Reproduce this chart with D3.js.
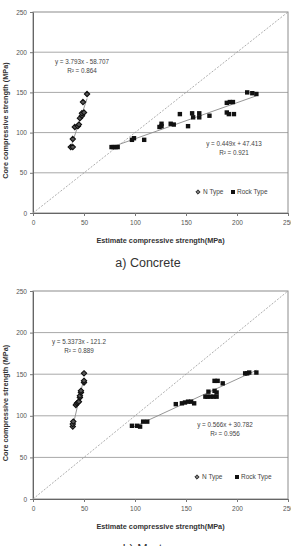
<!DOCTYPE html>
<html>
<head>
<meta charset="utf-8">
<script src="https://cdn.jsdelivr.net/npm/d3@7"></script>
<style>
body{margin:0;background:#fff;}
svg{display:block;}
</style>
</head>
<body>
<svg id="drawing_region"></svg>
<script>
// concrete (a)
const concreteN = [[37,82],[39,82],[39,92],[41,107],[44,108],[45,110],[46,118],[48,121],[48,124],[50,125],[49,138],[53,148]]
const concreteRock = [[77,82],[79,82],[81,82],[83,82],[97,91],[99,93],[109,91],[124,107],[126,111],[126,108],[135,111],[138,110],[144,123],[152,108],[156,124],[157,119],[163,124],[163,119],[173,121],[190,125],[192,123],[197,123],[190,137],[193,138],[196,138],[210,150],[215,149],[219,148]]
const concreteFitN = {slope:3.793, icept:-58.707, label:"y = 3.793x - 58.707", r2:"R² = 0.864"}
const concreteFitRock = {slope:0.449, icept:47.413, label:"y = 0.449x + 47.413", r2:"R² = 0.921"}

// mortar (b)
const mortarN = [[39,87],[39,90],[39.5,93],[42,113],[43,115],[44,116],[45,117],[46,122],[46,124],[47,128],[47,130],[50,140],[50,142],[50,151]]
const mortarRock = [[97,88],[102,88],[105,87],[108,93],[112,93],[140,114],[146,115],[149,116],[152,117],[155,117],[158,115],[169,123],[171,123],[174,123],[177,123],[180,123],[172,129],[178,130],[180,128],[178,142],[181,142],[186,139],[208,151],[210,151],[212,152],[219,152]]
const mortarFitN = {slope:5.3373, icept:-121.2, label:"y = 5.3373x - 121.2", r2:"R² = 0.889"}
const mortarFitRock = {slope:0.566, icept:30.782, label:"y = 0.566x + 30.782", r2:"R² = 0.956"}

const axisTicks = [0,50,100,150,200,250]
const legendLabels = ["N Type","Rock Type"]
const xTitle = "Estimate compressive strength(MPa)"
const yTitle = "Core compressive strength (MPa)"

const svg = d3.select("#drawing_region")
    .attr("width",291)
    .attr("height",546)

const font = "'Liberation Sans', Arial, sans-serif"

function drawPanel(cfg){
    const x = d3.scaleLinear().domain([0,250]).range([cfg.left,cfg.right])
    const y = d3.scaleLinear().domain([0,250]).range([cfg.bottom,cfg.top])
    const g = svg.append("g")

    // gridlines
    g.selectAll(".grid")
        .data(axisTicks.slice(1,-1))
        .enter()
        .append("line")
        .attr("x1",x(0)).attr("x2",x(250))
        .attr("y1",d=>y(d)).attr("y2",d=>y(d))
        .attr("stroke","#a8a8a8").attr("stroke-width",1)

    // box
    g.append("rect")
        .attr("x",x(0)).attr("y",y(250))
        .attr("width",x(250)-x(0)).attr("height",y(0)-y(250))
        .attr("fill","none").attr("stroke","#8c8c8c").attr("stroke-width",1)

    // axes
    const xAxis = g.append("g")
        .attr("transform",`translate(0,${y(0)})`)
        .call(d3.axisBottom(x).tickValues(axisTicks).tickSize(3).tickSizeOuter(0).tickPadding(4))
    const yAxis = g.append("g")
        .attr("transform",`translate(${x(0)},0)`)
        .call(d3.axisLeft(y).tickValues(axisTicks).tickSize(3).tickSizeOuter(0).tickPadding(3))
    ;[xAxis,yAxis].forEach(a=>{
        a.select(".domain").attr("stroke","#666")
        a.selectAll("line").attr("stroke","#777")
        a.selectAll("text").attr("font-family",font).attr("font-size",6.5).attr("fill","#555")
    })

    // y = x dashed
    g.append("line")
        .attr("x1",x(0)).attr("y1",y(0)).attr("x2",x(250)).attr("y2",y(250))
        .attr("stroke","#999").attr("stroke-width",0.8).attr("stroke-dasharray","2,1.5")

    // trend lines
    const fits = [[cfg.n,cfg.fitN],[cfg.rock,cfg.fitRock]]
    fits.forEach(([pts,fit])=>{
        const ext = d3.extent(pts,d=>d[0])
        g.append("line")
            .attr("x1",x(ext[0])).attr("y1",y(fit.slope*ext[0]+fit.icept))
            .attr("x2",x(ext[1])).attr("y2",y(fit.slope*ext[1]+fit.icept))
            .attr("stroke","#8a8a8a").attr("stroke-width",0.9)
    })

    // rock squares
    g.selectAll(".rock")
        .data(cfg.rock)
        .enter()
        .append("rect")
        .attr("x",d=>x(d[0])-2.2).attr("y",d=>y(d[1])-2.2)
        .attr("width",4.4).attr("height",4.4)
        .attr("fill","#111")

    // N diamonds
    const diamond = d3.symbol().type(d3.symbolDiamond2).size(18)
    g.selectAll(".ntype")
        .data(cfg.n)
        .enter()
        .append("path")
        .attr("d",diamond)
        .attr("transform",d=>`translate(${x(d[0])},${y(d[1])})`)
        .attr("fill","#555").attr("stroke","#111").attr("stroke-width",1.1)

    // equations
    ;[[cfg.fitN,cfg.eqN],[cfg.fitRock,cfg.eqRock]].forEach(([fit,pos])=>{
        g.append("text").attr("x",pos[0]).attr("y",pos[1])
            .attr("text-anchor","middle").attr("font-family",font).attr("font-size",6.3).attr("fill","#444")
            .text(fit.label)
        g.append("text").attr("x",pos[0]).attr("y",pos[1]+9)
            .attr("text-anchor","middle").attr("font-family",font).attr("font-size",6.3).attr("fill","#444")
            .text(fit.r2)
    })

    // legend
    const lg = g.append("g").attr("transform",`translate(${cfg.legend[0]},${cfg.legend[1]})`)
    lg.append("path").attr("d",d3.symbol().type(d3.symbolDiamond2).size(12)())
        .attr("fill","#777").attr("stroke","#222").attr("stroke-width",0.9)
    lg.append("text").attr("x",5).attr("y",2.3)
        .attr("font-family",font).attr("font-size",6.5).attr("fill","#444").text(legendLabels[0])
    lg.append("rect").attr("x",cfg.legendGap-2).attr("y",-2).attr("width",4).attr("height",4).attr("fill","#111")
    lg.append("text").attr("x",cfg.legendGap+4).attr("y",2.3)
        .attr("font-family",font).attr("font-size",6.5).attr("fill","#444").text(legendLabels[1])

    // axis titles
    g.append("text")
        .attr("x",(cfg.left+cfg.right)/2).attr("y",cfg.bottom+30)
        .attr("text-anchor","middle").attr("font-family",font).attr("font-weight","bold")
        .attr("font-size",7.3).attr("fill","#333").text(xTitle)
    g.append("text")
        .attr("transform",`translate(8,${(cfg.top+cfg.bottom)/2+8}) rotate(-90)`)
        .attr("text-anchor","middle").attr("font-family",font).attr("font-weight","bold")
        .attr("font-size",7.3).attr("fill","#333").text(yTitle)

    // caption
    g.append("text")
        .attr("x",148).attr("y",cfg.bottom+54)
        .attr("text-anchor","middle").attr("font-family",font)
        .attr("font-size",12.5).attr("fill","#333").text(cfg.caption)
}

drawPanel({top:12,bottom:213,left:33,right:288,n:concreteN,rock:concreteRock,
    fitN:concreteFitN,fitRock:concreteFitRock,eqN:[82,64],eqRock:[234,146],
    legend:[198,192],legendGap:35,caption:"a)  Concrete"})
drawPanel({top:291,bottom:499,left:33,right:288,n:mortarN,rock:mortarRock,
    fitN:mortarFitN,fitRock:mortarFitRock,eqN:[79,344],eqRock:[225,427],
    legend:[197,477],legendGap:40,caption:"b)  Mortar"})
</script>
</body>
</html>
